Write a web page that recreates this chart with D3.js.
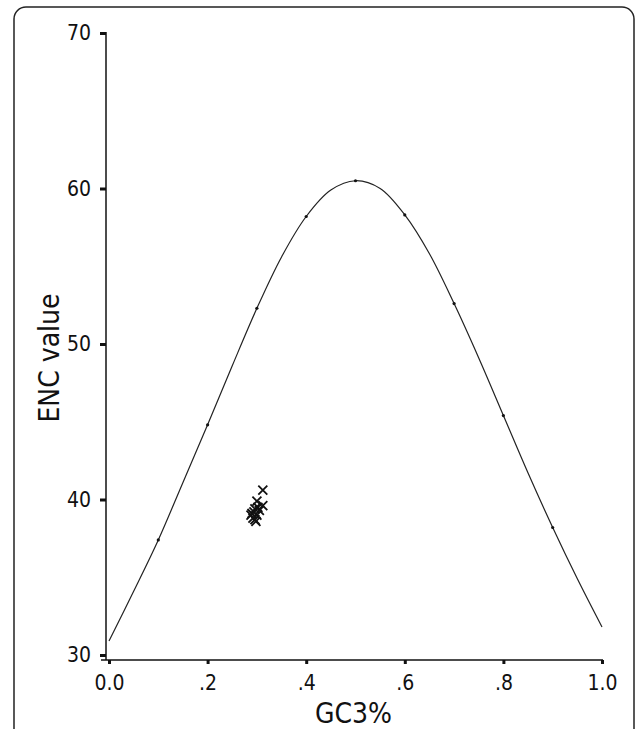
<!DOCTYPE html>
<html>
<head>
<meta charset="utf-8">
<script src="https://cdn.jsdelivr.net/npm/d3@7"></script>
<style>
  body { margin: 0; background: #fff; }
  svg text { font-family: "DejaVu Sans Condensed", "DejaVu Sans", sans-serif; fill: #111; }
</style>
</head>
<body>
<div id="chart"></div>
<script>
// expected ENC curve
var curveGc3 = [0, 0.05, 0.1, 0.15, 0.2, 0.25, 0.3, 0.35, 0.4, 0.45, 0.5,
                0.55, 0.6, 0.65, 0.7, 0.75, 0.8, 0.85, 0.9, 0.95, 1.0];
var curveEnc = [30.9, 34.1, 37.4, 41.1, 44.8, 48.6, 52.3, 55.6, 58.2, 59.9, 60.5,
                60.0, 58.3, 55.8, 52.6, 49.1, 45.4, 41.7, 38.2, 34.9, 31.8];
// marked points on the curve
var markGc3 = [0.1, 0.2, 0.3, 0.4, 0.5, 0.6, 0.7, 0.8, 0.9];

// genes (x markers)
var geneGc3 = [0.312, 0.300, 0.312, 0.296, 0.290, 0.300, 0.292, 0.298, 0.305, 0.288, 0.296, 0.302, 0.294];
var geneEnc = [40.6, 39.9, 39.6, 39.4, 39.1, 39.0, 38.8, 38.6, 39.3, 39.0, 38.7, 39.5, 39.2];

var xTicks = [0, 0.2, 0.4, 0.6, 0.8, 1.0];
var yTicks = [30, 40, 50, 60, 70];

var width = 638, height = 729;

var svg = d3.select('#chart').append('svg')
    .attr('width', width)
    .attr('height', height);

// rounded frame, open at the bottom
svg.append('rect')
    .attr('x', 14).attr('y', 7)
    .attr('width', 620).attr('height', 800)
    .attr('rx', 12).attr('ry', 12)
    .attr('fill', 'none')
    .attr('stroke', '#222')
    .attr('stroke-width', 1.5);

var x = d3.scaleLinear().domain([0, 1]).range([109, 602]);
var y = d3.scaleLinear().domain([30, 70]).range([655, 33]);

var axisY = 660, axisX = 106;

// y axis
var gy = svg.append('g')
    .attr('transform', 'translate(' + axisX + ',0)')
    .call(d3.axisLeft(y).tickValues(yTicks).tickSize(6).tickPadding(9).tickFormat(d3.format('d')));
gy.select('.domain').remove();
gy.selectAll('.tick line').attr('stroke', '#111').attr('stroke-width', 3);
gy.selectAll('.tick text').style('font-size', '21px');

svg.append('line')
    .attr('x1', axisX).attr('x2', axisX)
    .attr('y1', y(70) - 1).attr('y2', axisY)
    .attr('stroke', '#111').attr('stroke-width', 1.5);

// x axis
var gx = svg.append('g')
    .attr('transform', 'translate(0,' + axisY + ')')
    .call(d3.axisBottom(x).tickValues(xTicks).tickSize(4).tickPadding(11)
        .tickFormat(function(d) {
            if (d === 0) return '0.0';
            if (d === 1) return '1.0';
            return d3.format('.1f')(d).replace(/^0/, '');
        }));
gx.select('.domain').remove();
gx.selectAll('.tick line').attr('stroke', '#111').attr('stroke-width', 3);
gx.selectAll('.tick text').style('font-size', '21px');

svg.append('line')
    .attr('x1', 101).attr('x2', x(1) + 1)
    .attr('y1', axisY).attr('y2', axisY)
    .attr('stroke', '#111').attr('stroke-width', 1.5);

// axis titles
svg.append('text')
    .attr('x', (x(0) + x(1)) / 2 - 2)
    .attr('y', 723)
    .attr('text-anchor', 'middle')
    .style('font-size', '28px')
    .text('GC3%');

svg.append('text')
    .attr('transform', 'translate(59,358) rotate(-90)')
    .attr('text-anchor', 'middle')
    .style('font-size', '28px')
    .text('ENC value');

// expected curve
var curveData = curveGc3.map(function(d, i) { return [d, curveEnc[i]]; });
svg.append('path')
    .datum(curveData)
    .attr('fill', 'none')
    .attr('stroke', '#222')
    .attr('stroke-width', 1.2)
    .attr('d', d3.line()
        .x(function(d) { return x(d[0]); })
        .y(function(d) { return y(d[1]); })
        .curve(d3.curveCatmullRom));

svg.selectAll('.mark')
    .data(markGc3)
    .enter()
    .append('circle')
    .attr('class', 'mark')
    .attr('cx', function(d) { return x(d); })
    .attr('cy', function(d) { return y(curveEnc[curveGc3.indexOf(d)]); })
    .attr('r', 1.6)
    .attr('fill', '#111');

// genes as x markers
var geneData = geneGc3.map(function(d, i) { return [d, geneEnc[i]]; });
svg.selectAll('.gene')
    .data(geneData)
    .enter()
    .append('path')
    .attr('class', 'gene')
    .attr('d', function(d) {
        var cx = x(d[0]), cy = y(d[1]), r = 4.5;
        return 'M' + (cx - r) + ',' + (cy - r) + 'L' + (cx + r) + ',' + (cy + r) +
               'M' + (cx - r) + ',' + (cy + r) + 'L' + (cx + r) + ',' + (cy - r);
    })
    .attr('stroke', '#111')
    .attr('stroke-width', 1.8)
    .attr('fill', 'none');
</script>
</body>
</html>
